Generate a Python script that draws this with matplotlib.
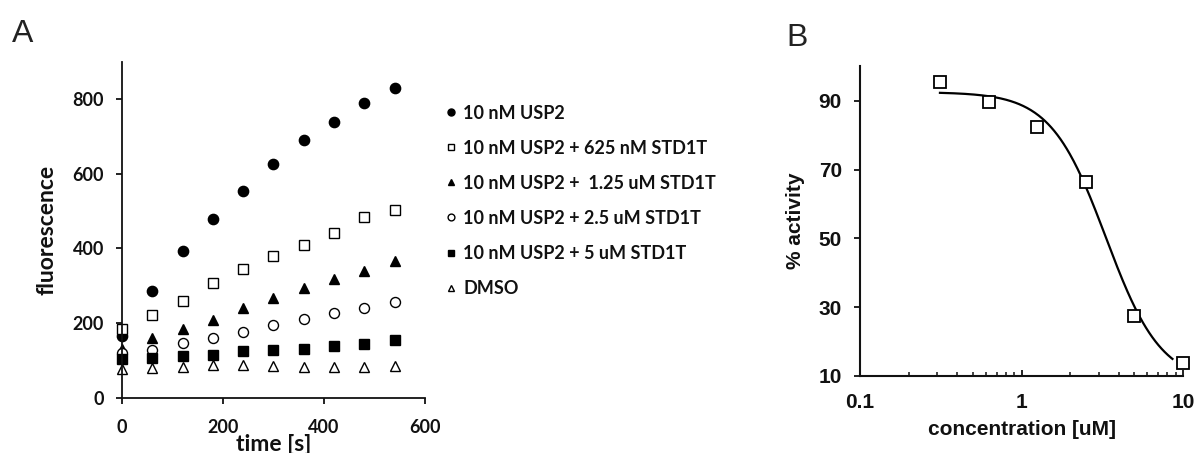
import numpy as np
import matplotlib
matplotlib.use("Agg")
import matplotlib.pyplot as plt

# ---------------- data: panel A ----------------
time_s = [0, 60, 120, 180, 240, 300, 360, 420, 480, 540]
usp2 = [165, 287, 393, 478, 553, 627, 690, 739, 788, 828]
std_625nM = [183, 222, 258, 306, 345, 380, 408, 440, 485, 503]
std_1p25uM = [131, 159, 183, 208, 239, 268, 293, 318, 340, 367]
std_2p5uM = [119, 129, 147, 160, 177, 195, 210, 228, 239, 257]
std_5uM = [103, 107, 112, 113, 124, 128, 131, 138, 143, 154]
dmso = [78, 80, 83, 87, 87, 85, 81, 83, 81, 86]
series_labels = ["10 nM USP2",
                 "10 nM USP2 + 625 nM STD1T",
                 "10 nM USP2 +  1.25 uM STD1T",
                 "10 nM USP2 + 2.5 uM STD1T",
                 "10 nM USP2 + 5 uM STD1T",
                 "DMSO"]
a_xticks = [0, 200, 400, 600]
a_yticks = [0, 200, 400, 600, 800]

# ---------------- data: panel B ----------------
conc_uM = [0.3125, 0.625, 1.25, 2.5, 5, 10]
activity = [95.3, 89.5, 82.3, 66.5, 27.4, 13.9]
# fitted dose-response (Hill) parameters
hill_top = 92.5
hill_bottom = 8.0
hill_ic50 = 3.33
hill_slope = 2.54
fit_range = (0.3125, 8.6)
b_xticks = [0.1, 1, 10]
b_xticklabels = ["0.1", "1", "10"]
b_yticks = [10, 30, 50, 70, 90]

FONT_A = "Lato"
FONT_B = "Liberation Sans"
TXT = "#111111"

fig = plt.figure(figsize=(11.98, 4.53), dpi=100)

# ---------------- panel A ----------------
axA = fig.add_axes([0.1018, 0.1221, 0.2529, 0.742])
styles = [
    dict(marker="o", mfc="black", mec="black", ms=7.4),
    dict(marker="s", mfc="white", mec="black", ms=6.6),
    dict(marker="^", mfc="black", mec="black", ms=7.2),
    dict(marker="o", mfc="white", mec="black", ms=7.2),
    dict(marker="s", mfc="black", mec="black", ms=6.6),
    dict(marker="^", mfc="white", mec="black", ms=7.2),
]
all_series = [usp2, std_625nM, std_1p25uM, std_2p5uM, std_5uM, dmso]
handles = []
for ys, st, lab in zip(all_series, styles, series_labels):
    h, = axA.plot(time_s, ys, linestyle="none", mew=1.0, clip_on=False,
                  label=lab, **st)
    handles.append(h)
axA.set_xlim(0, 600)
axA.set_ylim(0, 900)
axA.set_xticks(a_xticks)
axA.set_yticks(a_yticks)
for s in ["top", "right"]:
    axA.spines[s].set_visible(False)
for s in ["left", "bottom"]:
    axA.spines[s].set_linewidth(1.3)
    axA.spines[s].set_color(TXT)
axA.tick_params(axis="both", direction="out", length=4, width=1.3, colors=TXT,
                labelsize=13)
axA.tick_params(axis="y", pad=9)
axA.tick_params(axis="x", pad=11)
for lab in axA.get_xticklabels() + axA.get_yticklabels():
    lab.set_fontfamily(FONT_A)
    lab.set_fontweight("bold")
axA.set_xlabel("time [s]", fontsize=16.5, fontfamily=FONT_A, fontweight="bold",
               color=TXT, labelpad=-1)
axA.set_ylabel("fluorescence", fontsize=16.5, fontfamily=FONT_A,
               fontweight="bold", color=TXT, labelpad=11)

leg = fig.legend(handles=handles, labels=series_labels, loc="upper left",
                 bbox_to_anchor=(0.3715, 0.769), frameon=False,
                 handlelength=0.7, handletextpad=0.3, labelspacing=1.0,
                 borderpad=0, borderaxespad=0, markerscale=0.68,
                 prop=dict(family=FONT_A, weight="bold", size=13))
for t in leg.get_texts():
    t.set_color(TXT)

fig.text(0.0100, 0.908, "A", fontsize=23, fontfamily=FONT_B, color="#222222",
         va="baseline")

# ---------------- panel B ----------------
axB = fig.add_axes([0.7179, 0.170, 0.2696, 0.6836])
xfit = np.geomspace(fit_range[0], fit_range[1], 300)
yfit = hill_bottom + (hill_top - hill_bottom) / (1 + (xfit / hill_ic50) ** hill_slope)
axB.plot(xfit, yfit, color="black", lw=1.6)
axB.plot(conc_uM, activity, linestyle="none", marker="s", mfc="white",
         mec="black", ms=8.5, mew=1.3, clip_on=False)
axB.set_xscale("log")
axB.set_xlim(0.1, 10)
axB.set_ylim(10, 100)
axB.set_xticks(b_xticks)
axB.set_xticklabels(b_xticklabels)
axB.set_yticks(b_yticks)
for s in ["top", "right"]:
    axB.spines[s].set_visible(False)
for s in ["left", "bottom"]:
    axB.spines[s].set_linewidth(1.5)
    axB.spines[s].set_color(TXT)
axB.tick_params(axis="y", direction="out", length=4, width=1.3, colors=TXT,
                labelsize=15, pad=9)
axB.tick_params(axis="x", which="major", direction="in", length=4, width=1.3,
                colors=TXT, labelsize=15, pad=12)
axB.tick_params(axis="x", which="minor", direction="in", length=3, width=1.1,
                colors=TXT)
for lab in axB.get_xticklabels() + axB.get_yticklabels():
    lab.set_fontfamily(FONT_B)
    lab.set_fontweight("bold")
axB.set_xlabel("concentration [uM]", fontsize=15, fontfamily=FONT_B,
               fontweight="bold", color=TXT, labelpad=6)
axB.set_ylabel("% activity", fontsize=15, fontfamily=FONT_B,
               fontweight="bold", color=TXT, labelpad=10)

fig.text(0.656, 0.899, "B", fontsize=23, fontfamily=FONT_B, color="#222222",
         va="baseline")

fig.savefig("out.png", dpi=100, facecolor="white")
